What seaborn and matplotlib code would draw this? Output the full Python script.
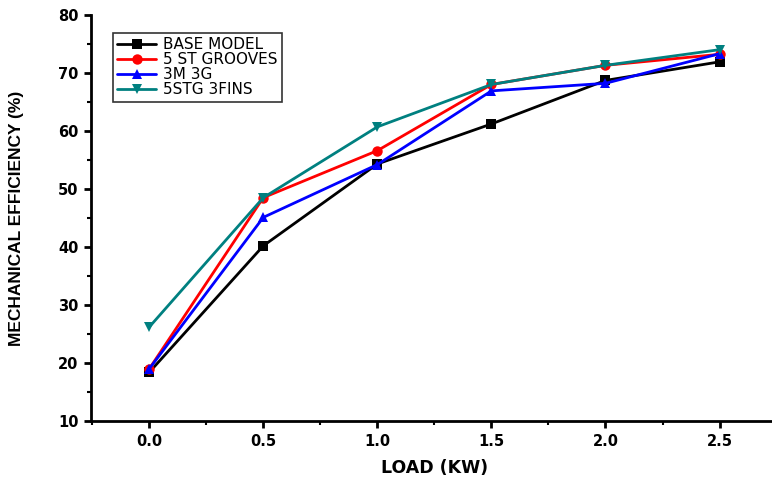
import matplotlib
matplotlib.use("Agg")
import matplotlib.pyplot as plt
import seaborn as sns
import pandas as pd
from matplotlib.ticker import MultipleLocator

load = [0.0, 0.5, 1.0, 1.5, 2.0, 2.5]
base_model = [18.4, 40.2, 54.3, 61.2, 68.7, 71.9]
st_grooves = [19.0, 48.5, 56.6, 68.0, 71.3, 73.2]
m3_g3 = [19.0, 45.1, 54.2, 66.9, 68.2, 73.3]
stg_fins = [26.2, 48.5, 60.7, 68.0, 71.3, 74.0]
series_names = ["BASE MODEL", "5 ST GROOVES", "3M 3G", "5STG 3FINS"]
x_ticks = [0.0, 0.5, 1.0, 1.5, 2.0, 2.5]
x_ticklabels = ["0.0", "0.5", "1.0", "1.5", "2.0", "2.5"]

rows = []
for name, vals in zip(series_names, [base_model, st_grooves, m3_g3, stg_fins]):
    for x, y in zip(load, vals):
        rows.append({"load": x, "eff": y, "series": name})
df = pd.DataFrame(rows)

sns.set_style("ticks")
plt.rcParams["font.family"] = ["DejaVu Sans"]
plt.rcParams["text.color"] = "black"
plt.rcParams["axes.labelcolor"] = "black"
plt.rcParams["axes.edgecolor"] = "black"
plt.rcParams["xtick.color"] = "black"
plt.rcParams["ytick.color"] = "black"

fig = plt.figure(figsize=(7.72, 4.79), dpi=100)
ax = fig.add_axes([0.118, 0.121, 0.882, 0.848])

palette = {"BASE MODEL": "#000000", "5 ST GROOVES": "#ff0000",
           "3M 3G": "#0000ff", "5STG 3FINS": "#008080"}
markers = {"BASE MODEL": "s", "5 ST GROOVES": "o", "3M 3G": "^", "5STG 3FINS": "v"}

sns.lineplot(data=df, x="load", y="eff", hue="series", style="series",
             hue_order=series_names, style_order=series_names,
             palette=palette, markers=markers, dashes=False,
             linewidth=2, markersize=7.5, markeredgewidth=0, ax=ax)

ax.set_xlim(-0.255, 2.73)
ax.set_ylim(10, 80)
ax.yaxis.set_major_locator(MultipleLocator(10))
ax.yaxis.set_minor_locator(MultipleLocator(5))
ax.set_xticks(x_ticks)
ax.set_xticklabels(x_ticklabels)
ax.xaxis.set_minor_locator(MultipleLocator(0.25))

for side in ["top", "right"]:
    ax.spines[side].set_visible(False)
for side in ["left", "bottom"]:
    ax.spines[side].set_linewidth(2)
    ax.spines[side].set_color("black")
ax.tick_params(which="major", direction="out", length=5, width=2, labelsize=10.5, pad=4,
               colors="black")
ax.tick_params(which="minor", direction="out", length=3, width=1.5, colors="black")
for lab in ax.get_xticklabels() + ax.get_yticklabels():
    lab.set_fontweight("bold")
    lab.set_family("DejaVu Sans")

ax.set_xlabel("LOAD (KW)", fontsize=12.5, fontweight="bold", family="DejaVu Sans",
              color="black")
ax.xaxis.set_label_coords(0.505, -0.093)
ylab = ax.set_ylabel("MECHANICAL EFFICIENCY (%)", color="black")
ylab.set_family("Liberation Sans")
ylab.set_fontweight("bold")
ylab.set_fontsize(12.5)
ax.yaxis.set_label_coords(-0.098, 0.5)

leg = ax.legend(loc="upper left", bbox_to_anchor=(0.032, 0.956), borderaxespad=0,
                frameon=True, fancybox=False, edgecolor="black",
                prop={"family": "DejaVu Sans", "size": 11},
                handlelength=2.5, borderpad=0.3, labelspacing=0.0, handletextpad=0.5)
leg.get_frame().set_linewidth(1.2)
for t in leg.get_texts():
    t.set_color("black")

fig.savefig("out.png", dpi=100)
